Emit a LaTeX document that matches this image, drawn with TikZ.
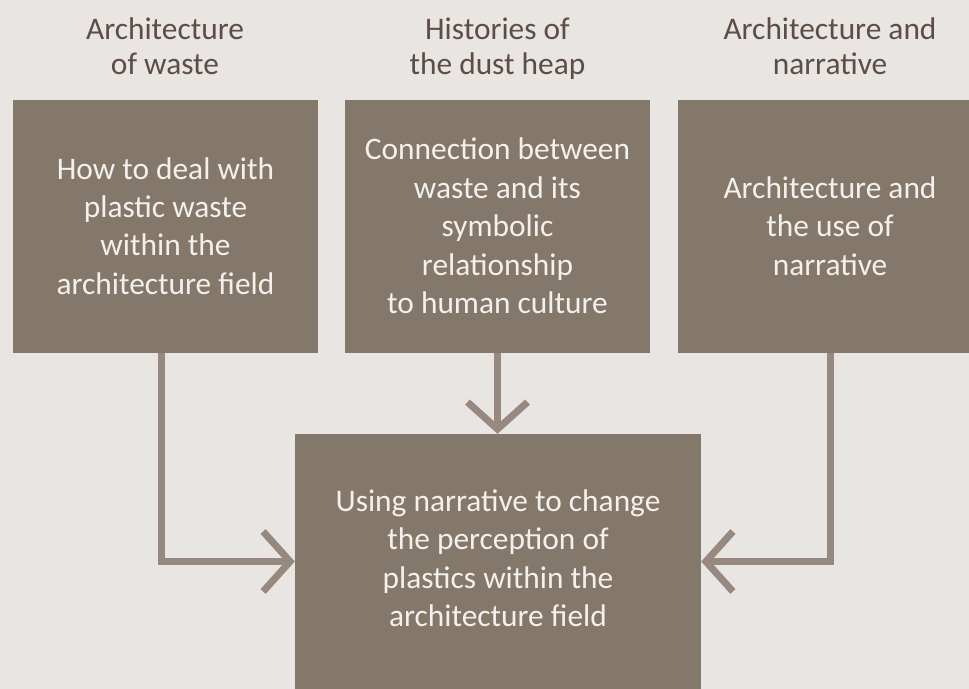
\documentclass[tikz,border=0pt]{standalone}
\usepackage{fontspec}
\setmainfont{Carlito}
\usetikzlibrary{arrows.meta}
\definecolor{pagebg}{HTML}{E8E5E2}
\definecolor{boxfill}{HTML}{837869}
\definecolor{linkcol}{HTML}{978880}
\definecolor{headcol}{HTML}{5C4E46}
\definecolor{boxtext}{HTML}{F4F0EC}
% taller strut for the first line of the upper boxes
\newcommand{\toprule}{\rule{0pt}{32bp}}
\tikzset{
  topic/.style={fill=boxfill, text=boxtext, align=center, inner sep=0pt,
    minimum width=305bp, minimum height=253bp,
    font=\fontsize{31.5}{38.6}\selectfont},
  heading/.style={text=headcol, align=center, inner sep=0pt,
    font=\fontsize{31.5}{35}\selectfont},
  link/.style={draw=linkcol, line width=7bp,
    -{Straight Barb[length=27bp,width=60bp,line width=7bp]}}
}
\begin{document}
\begin{tikzpicture}[x=1bp,y=-1bp]
  \useasboundingbox (0,0) rectangle (969,689);
  \clip (0,0) rectangle (969,689);
  \fill[pagebg] (0,0) rectangle (969,689);

  % headings
  \node[heading] (h1) at (165,50) {\strut Architecture\\of waste\strut};
  \node[heading] (h2) at (497.5,50) {\strut Histories of\\the dust heap\strut};
  \node[heading] (h3) at (830,50) {\strut Architecture and\\narrative\strut};

  % topic boxes
  \node[topic] (b1) at (165.5,226.5) {\toprule How to deal with\\plastic waste\\within the\\architecture field\strut};
  \node[topic] (b2) at (497.5,226.5) {\toprule Connection between\\waste and its\\symbolic\\relationship\\to human culture\strut};
  \node[topic, minimum width=304bp] (b3) at (830,226.5) {\toprule Architecture and\\the use of\\narrative\strut};

  % result box
  \node[topic, minimum width=406bp, minimum height=255bp] (res) at (498,561.5)
    {\strut Using narrative to change\\the perception of\\plastics within the\\architecture field\strut};

  % connectors
  \draw[link] (b1.south -| 161,0) |- (res.west);
  \draw[link] (b2.south) -- (res.north -| b2.south);
  \draw[link] (b3.south) |- (res.east);
\end{tikzpicture}
\end{document}
